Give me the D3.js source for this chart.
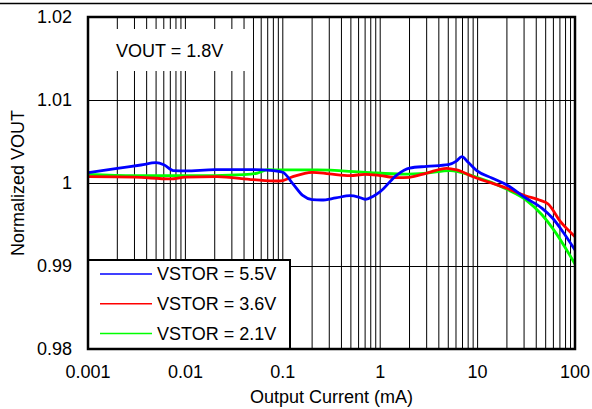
<!DOCTYPE html>
<html lang="en">
<head>
  <meta charset="UTF-8">
  <script src="https://d3js.org/d3.v7.min.js"></script>
  <title>Normalized VOUT</title>
  <style>
    body { margin: 0; background: #fff; }
    text { font-family: "Liberation Sans", Arial, sans-serif; font-size: 18px; fill: #000; }
  </style>
</head>
<body>
  <svg id="chart" width="592" height="409"></svg>

  <script>
    // Series data (output current in mA, normalized VOUT)
    var blueX = [0.001, 0.002, 0.0035, 0.005, 0.006, 0.0075, 0.01, 0.02, 0.05, 0.08, 0.1, 0.127, 0.16, 0.2, 0.25, 0.35, 0.49, 0.6, 0.7, 0.85, 1.0, 1.48, 2.0, 3.0, 5.0, 6.0, 6.9, 8.0, 9.8, 14, 20, 31.5, 46, 59, 75, 100];
    var blueY = [1.00124, 1.00177, 1.00217, 1.00245, 1.0022, 1.0015, 1.00145, 1.0016, 1.0016, 1.0015, 1.0013, 0.9999, 0.9985, 0.998, 0.99795, 0.9982, 0.99847, 0.9983, 0.99804, 0.9984, 0.99895, 1.00096, 1.0018, 1.002, 1.0022, 1.0026, 1.00317, 1.0025, 1.0015, 1.0006, 0.99976, 0.99816, 0.99695, 0.99575, 0.99413, 0.99193];

    var redX = [0.001, 0.003, 0.007, 0.01, 0.021, 0.05, 0.087, 0.1, 0.127, 0.2, 0.3, 0.49, 0.7, 1.0, 1.48, 2.0, 3.0, 4.8, 6.1, 9, 20, 31.5, 43, 53, 71, 100];
    var redY = [1.00076, 1.0007, 1.0005, 1.0007, 1.00076, 1.0004, 1.00024, 1.0003, 1.00076, 1.00129, 1.0011, 1.00088, 1.00105, 1.0009, 1.00064, 1.00069, 1.0012, 1.00177, 1.00157, 1.00076, 0.99936, 0.99843, 0.99795, 0.99747, 0.99534, 0.99353];

    var greenX = [0.001, 0.003, 0.02, 0.04, 0.055, 0.07, 0.1, 0.225, 0.7, 1.7, 3.0, 5.2, 9, 20, 31.5, 46, 59, 100];
    var greenY = [1.00105, 1.0009, 1.0009, 1.001, 1.0012, 1.0016, 1.00157, 1.00157, 1.00129, 1.00108, 1.0012, 1.00148, 1.00084, 0.99924, 0.99795, 0.99614, 0.99454, 0.99024];

    var seriesNames = ["VSTOR = 5.5V", "VSTOR = 3.6V", "VSTOR = 2.1V"];
    var seriesColors = ["#0000ff", "#ff0000", "#00ff00"];

    var xTicks = [0.001, 0.01, 0.1, 1, 10, 100];
    var xTickLabels = ["0.001", "0.01", "0.1", "1", "10", "100"];
    var yTicks = [0.98, 0.99, 1.0, 1.01, 1.02];
    var yTickLabels = ["0.98", "0.99", "1", "1.01", "1.02"];

    var svg = d3.select("#chart"),
      width = +svg.attr("width"),
      height = +svg.attr("height");

    var plot = { left: 88, right: 575, top: 17, bottom: 349 };

    var x = d3.scaleLog().domain([0.001, 100]).range([plot.left, plot.right]);
    var y = d3.scaleLinear().domain([0.98, 1.02]).range([plot.bottom, plot.top]);

    // thin rule across the top of the figure
    svg.append("line")
      .attr("x1", 0).attr("x2", width)
      .attr("y1", 3.5).attr("y2", 3.5)
      .attr("stroke", "#000").attr("stroke-width", 1.5);

    // vertical grid: every 1..9 of each decade
    var gridX = [];
    for (var d = 0.001; d < 100; d *= 10) {
      for (var k = 1; k <= 9; k++) gridX.push(+(k * d).toPrecision(3));
    }
    gridX.push(100);

    var grid = svg.append("g");
    grid.selectAll("line.vx")
      .data(gridX)
      .enter().append("line")
        .attr("class", "vx")
        .attr("x1", function(v) { return x(v); })
        .attr("x2", function(v) { return x(v); })
        .attr("y1", plot.top).attr("y2", plot.bottom)
        .attr("stroke", "#000").attr("stroke-width", 1);

    grid.selectAll("line.hy")
      .data(yTicks.slice(1, -1))
      .enter().append("line")
        .attr("class", "hy")
        .attr("x1", plot.left).attr("x2", plot.right)
        .attr("y1", function(v) { return Math.round(y(v)) + 0.5; })
        .attr("y2", function(v) { return Math.round(y(v)) + 0.5; })
        .attr("stroke", "#000").attr("stroke-width", 1);

    // white box behind the VOUT label
    svg.append("rect")
      .attr("x", plot.left + 1).attr("y", 29)
      .attr("width", 164).attr("height", 42)
      .attr("fill", "#fff");
    svg.append("text")
      .attr("x", 116).attr("y", 51)
      .attr("dy", "0.35em")
      .text("VOUT = 1.8V");

    // curves
    var line = d3.line()
      .x(function(p) { return x(p[0]); })
      .y(function(p) { return y(p[1]); })
      .curve(d3.curveMonotoneX);

    var series = [
      d3.zip(blueX, blueY),
      d3.zip(redX, redY),
      d3.zip(greenX, greenY)
    ];

    // draw green first so blue and red sit on top
    [2, 1, 0].forEach(function(i) {
      svg.append("path")
        .datum(series[i])
        .attr("d", line)
        .attr("fill", "none")
        .attr("stroke", seriesColors[i])
        .attr("stroke-width", 2.8)
        .attr("stroke-linejoin", "round");
    });

    // legend
    var legend = svg.append("g");
    legend.append("rect")
      .attr("x", plot.left).attr("y", 260)
      .attr("width", 202).attr("height", plot.bottom - 260)
      .attr("fill", "#fff")
      .attr("stroke", "#000").attr("stroke-width", 2);

    seriesNames.forEach(function(name, i) {
      var ly = 274 + i * 29.7;
      legend.append("line")
        .attr("x1", 100).attr("x2", 152)
        .attr("y1", ly).attr("y2", ly)
        .attr("stroke", seriesColors[i]).attr("stroke-width", 1.5);
      legend.append("text")
        .attr("x", 157).attr("y", ly)
        .attr("dy", "0.35em")
        .text(name);
    });

    // plot frame
    svg.append("rect")
      .attr("x", plot.left).attr("y", plot.top)
      .attr("width", plot.right - plot.left)
      .attr("height", plot.bottom - plot.top)
      .attr("fill", "none")
      .attr("stroke", "#000").attr("stroke-width", 2.5);

    // tick labels
    svg.append("g").selectAll("text")
      .data(xTicks)
      .enter().append("text")
        .attr("x", function(v) { return x(v); })
        .attr("y", 378)
        .attr("text-anchor", "middle")
        .text(function(v, i) { return xTickLabels[i]; });

    svg.append("g").selectAll("text")
      .data(yTicks)
      .enter().append("text")
        .attr("x", 72)
        .attr("y", function(v) { return y(v); })
        .attr("dy", "0.35em")
        .attr("text-anchor", "end")
        .text(function(v, i) { return yTickLabels[i]; });

    // axis titles
    svg.append("text")
      .attr("x", (plot.left + plot.right) / 2)
      .attr("y", 403)
      .attr("text-anchor", "middle")
      .text("Output Current (mA)");

    svg.append("text")
      .attr("transform", "translate(18," + ((plot.top + plot.bottom) / 2) + ") rotate(-90)")
      .attr("dy", "0.35em")
      .attr("text-anchor", "middle")
      .text("Normalized VOUT");
  </script>
</body>
</html>
